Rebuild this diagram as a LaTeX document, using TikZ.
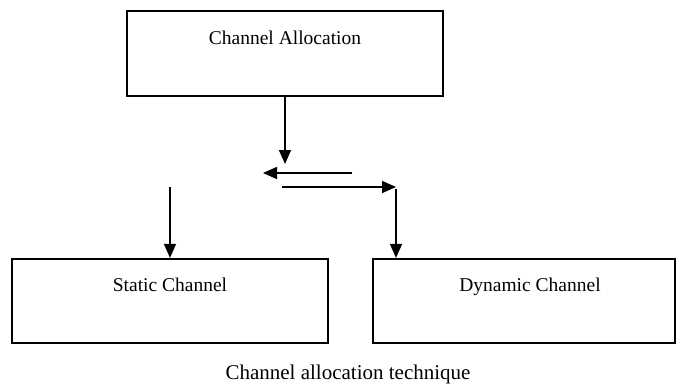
\documentclass[tikz,border=0pt]{standalone}
\usepackage{fontspec}
\setmainfont{Liberation Serif}
\usetikzlibrary{arrows.meta}
\begin{document}
\begin{tikzpicture}[x=1pt,y=-1pt,
  box/.style={draw, line width=2.2pt, inner sep=0pt},
  label/.style={font=\fontsize{19.5}{20}\selectfont, inner sep=0pt, anchor=base},
  arr/.style={line width=1.5pt, -{Triangle[length=14pt,width=12pt]}}]
  \useasboundingbox (0,0) rectangle (676,385);
  % boxes
  \node[box, minimum width=316pt, minimum height=85pt] (top) at (285,53.5) {};
  \node[box, minimum width=316pt, minimum height=84pt] (stat) at (170,301) {};
  \node[box, minimum width=302pt, minimum height=84pt] (dyn) at (524,301) {};
  % box titles
  \node[label] (toptxt) at (285,45) {Channel Allocation};
  \node[label] (stattxt) at (170,291.5) {Static Channel};
  \node[label] (dyntxt) at (530,291.5) {Dynamic Channel};
  % caption
  \node[font=\fontsize{21}{22}\selectfont, inner sep=0pt, anchor=base] (cap) at (348,379) {Channel allocation technique};
  % connector end points
  \coordinate (a1) at (285,164);
  \coordinate (l1) at (352,173);
  \coordinate (l2) at (263,173);
  \coordinate (r1) at (282,187);
  \coordinate (r2) at (396,187);
  \coordinate (d1) at (396,189);
  \coordinate (s1) at (170,187);
  % connectors
  \draw[arr] (top.south) -- (a1);
  \draw[arr] (l1) -- (l2);
  \draw[arr] (r1) -- (r2);
  \draw[arr] (d1) -- (d1 |- dyn.north);
  \draw[arr] (s1) -- (stat.north);
\end{tikzpicture}
\end{document}
